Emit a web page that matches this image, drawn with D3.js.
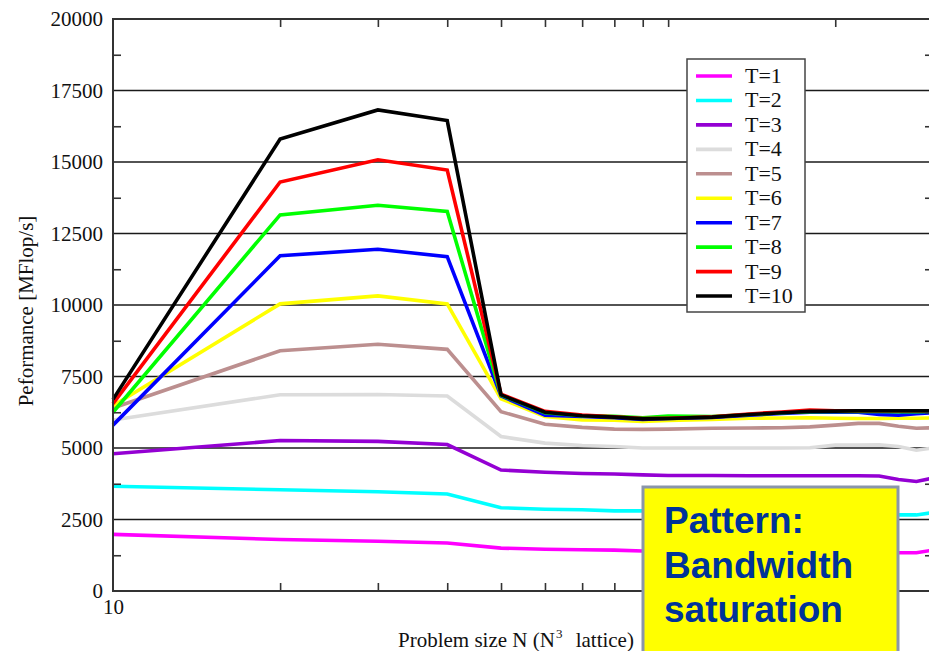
<!DOCTYPE html>
<html>
<head>
<meta charset="utf-8">
<script src="https://cdn.jsdelivr.net/npm/d3@7/dist/d3.min.js"></script>
<style>
  html, body { margin: 0; padding: 0; background: #fff; }
  svg { display: block; }
  .serif { font-family: "Liberation Serif", "Times New Roman", serif; fill: #111; }
</style>
</head>
<body>
<svg id="chart" width="929" height="651"></svg>
<script>
// Problem sizes N (N^3 lattice)
const sizes = [10, 20, 30, 40, 50, 60, 70, 80, 90, 100, 120, 140, 160, 180, 200, 220, 240, 260, 280, 300];

// Performance in MFlop/s for T = 1..10 threads
const t1  = [1980, 1800, 1740, 1680, 1500, 1460, 1440, 1430, 1400, 1380, 1380, 1380, 1380, 1380, 1380, 1370, 1370, 1340, 1340, 1430];
const t2  = [3660, 3540, 3470, 3390, 2910, 2860, 2840, 2800, 2800, 2790, 2780, 2770, 2760, 2750, 2740, 2730, 2710, 2660, 2660, 2740];
const t3  = [4800, 5260, 5230, 5120, 4230, 4150, 4110, 4090, 4060, 4040, 4040, 4030, 4030, 4030, 4030, 4030, 4020, 3900, 3830, 3950];
const t4  = [5980, 6860, 6870, 6820, 5400, 5170, 5090, 5050, 5000, 5000, 5000, 5000, 5000, 5010, 5100, 5100, 5110, 5050, 4920, 5000];
const t5  = [6400, 8400, 8630, 8450, 6270, 5830, 5720, 5660, 5650, 5660, 5690, 5700, 5710, 5740, 5800, 5860, 5860, 5760, 5690, 5710];
const t6  = [6480, 10040, 10320, 10040, 6720, 6100, 5980, 5970, 5930, 5960, 6000, 6040, 6050, 6060, 6040, 6030, 6030, 6040, 6040, 6050];
const t7  = [5800, 11720, 11950, 11690, 6820, 6150, 6100, 6060, 6000, 6030, 6070, 6150, 6210, 6250, 6260, 6250, 6170, 6150, 6200, 6230];
const t8  = [6250, 13150, 13490, 13270, 6850, 6230, 6130, 6110, 6060, 6120, 6100, 6170, 6230, 6270, 6280, 6280, 6280, 6270, 6270, 6280];
const t9  = [6550, 14300, 15080, 14720, 6880, 6280, 6150, 6090, 6030, 6040, 6090, 6190, 6260, 6330, 6300, 6300, 6300, 6300, 6300, 6300];
const t10 = [6700, 15800, 16820, 16450, 6860, 6250, 6130, 6080, 6020, 6030, 6080, 6170, 6230, 6280, 6290, 6300, 6300, 6300, 6300, 6300];

const seriesNames = ["T=1", "T=2", "T=3", "T=4", "T=5", "T=6", "T=7", "T=8", "T=9", "T=10"];
const seriesColors = ["#ff00ff", "#00ffff", "#9400d3", "#dcdcdc", "#bc8f8f", "#ffff00", "#0000ff", "#00ff00", "#ff0000", "#000000"];
const seriesValues = [t1, t2, t3, t4, t5, t6, t7, t8, t9, t10];

// Axis ticks
const yMajor = [0, 2500, 5000, 7500, 10000, 12500, 15000, 17500, 20000];
const yMinor = [1250, 3750, 6250, 8750, 11250, 13750, 16250, 18750];
const xMinor = [20, 30, 40, 50, 60, 70, 80, 90, 100, 200];
const xLabels = [10];

const noteLines = ["Pattern:", "Bandwidth", "saturation"];

const svg = d3.select("#chart");
const plotLeft = 113, plotRight = 933, plotTop = 19, plotBottom = 591;

const x = d3.scaleLog().domain([10, 300]).range([plotLeft, plotRight]);
const y = d3.scaleLinear().domain([0, 20000]).range([plotBottom, plotTop]);

svg.append("rect").attr("width", 929).attr("height", 651).attr("fill", "#fff");

// Horizontal grid lines
svg.append("g")
  .selectAll("line")
  .data(yMajor.slice(1, -1))
  .join("line")
  .attr("x1", plotLeft).attr("x2", plotRight)
  .attr("y1", d => y(d)).attr("y2", d => y(d))
  .attr("stroke", "#1a1a1a").attr("stroke-width", 1.3);

// Series lines
const line = d3.line().x((d, i) => x(sizes[i])).y(d => y(d));
svg.append("g")
  .selectAll("path")
  .data(seriesValues)
  .join("path")
  .attr("d", d => line(d))
  .attr("fill", "none")
  .attr("stroke", (d, i) => seriesColors[i])
  .attr("stroke-width", 3.6)
  .attr("stroke-linejoin", "miter");

// Frame
svg.append("rect")
  .attr("x", plotLeft).attr("y", plotTop)
  .attr("width", plotRight - plotLeft).attr("height", plotBottom - plotTop)
  .attr("fill", "none").attr("stroke", "#333").attr("stroke-width", 2);

function styleTicks(g) {
  g.select(".domain").remove();
  g.selectAll(".tick line").attr("stroke", "#333").attr("stroke-width", 1.6);
}

// Inward ticks on all four sides
svg.append("g").attr("transform", `translate(0,${plotBottom})`)
  .call(d3.axisBottom(x).tickValues(xMinor).tickSize(-8).tickFormat(""))
  .call(styleTicks);
svg.append("g").attr("transform", `translate(0,${plotTop})`)
  .call(d3.axisTop(x).tickValues(xMinor).tickSize(-8).tickFormat(""))
  .call(styleTicks);
svg.append("g").attr("transform", `translate(${plotLeft},0)`)
  .call(d3.axisLeft(y).tickValues(yMinor).tickSize(-8).tickFormat(""))
  .call(styleTicks);
svg.append("g").attr("transform", `translate(${plotRight},0)`)
  .call(d3.axisRight(y).tickValues(yMinor).tickSize(-8).tickFormat(""))
  .call(styleTicks);

// Y tick labels
const yAxis = svg.append("g").attr("transform", `translate(${plotLeft},0)`)
  .call(d3.axisLeft(y).tickValues(yMajor).tickSize(0).tickPadding(10).tickFormat(d3.format("d")));
yAxis.select(".domain").remove();
yAxis.selectAll("text")
  .attr("class", "serif")
  .style("font-size", "21px")
  .attr("fill", "#111");

// X tick labels
const xAxis = svg.append("g").attr("transform", `translate(0,${plotBottom})`)
  .call(d3.axisBottom(x).tickValues(xLabels).tickSize(0).tickPadding(8).tickFormat(d3.format("d")));
xAxis.select(".domain").remove();
xAxis.selectAll("text")
  .attr("class", "serif")
  .style("font-size", "21px")
  .attr("fill", "#111");

// Axis titles
svg.append("text")
  .attr("class", "serif")
  .attr("transform", `translate(33,311) rotate(-90)`)
  .attr("text-anchor", "middle")
  .style("font-size", "21px")
  .text("Peformance [MFlop/s]");

const xt = svg.append("text")
  .attr("class", "serif")
  .attr("x", 398).attr("y", 647)
  .style("font-size", "21px");
xt.append("tspan").text("Problem size N (N");
xt.append("tspan").attr("dx", 1).attr("dy", -9).style("font-size", "13px").text("3");
xt.append("tspan").attr("dx", 8).attr("dy", 9).text(" lattice)");

// Legend
const legend = svg.append("g");
legend.append("rect")
  .attr("x", 687).attr("y", 59).attr("width", 118).attr("height", 253)
  .attr("fill", "#fff").attr("stroke", "#444").attr("stroke-width", 1.5);
const rows = legend.selectAll("g.row")
  .data(seriesNames)
  .join("g")
  .attr("class", "row")
  .attr("transform", (d, i) => `translate(0,${76 + i * 24.45})`);
rows.append("line")
  .attr("x1", 696).attr("x2", 732)
  .attr("stroke", (d, i) => seriesColors[i])
  .attr("stroke-width", 3.6);
rows.append("text")
  .attr("class", "serif")
  .attr("x", 745).attr("y", 7)
  .style("font-size", "22px")
  .text(d => d);

// Callout box
const note = svg.append("g");
note.append("rect")
  .attr("x", 643).attr("y", 487).attr("width", 255).attr("height", 200)
  .attr("fill", "#ffff00").attr("stroke", "#8a96aa").attr("stroke-width", 3);
note.selectAll("text")
  .data(noteLines)
  .join("text")
  .attr("x", 664)
  .attr("y", (d, i) => 533 + i * 44.5)
  .attr("fill", "#003399")
  .style("font-family", "'Liberation Sans', Arial, sans-serif")
  .style("font-weight", "bold")
  .style("font-size", "37px")
  .text(d => d);
</script>
</body>
</html>
